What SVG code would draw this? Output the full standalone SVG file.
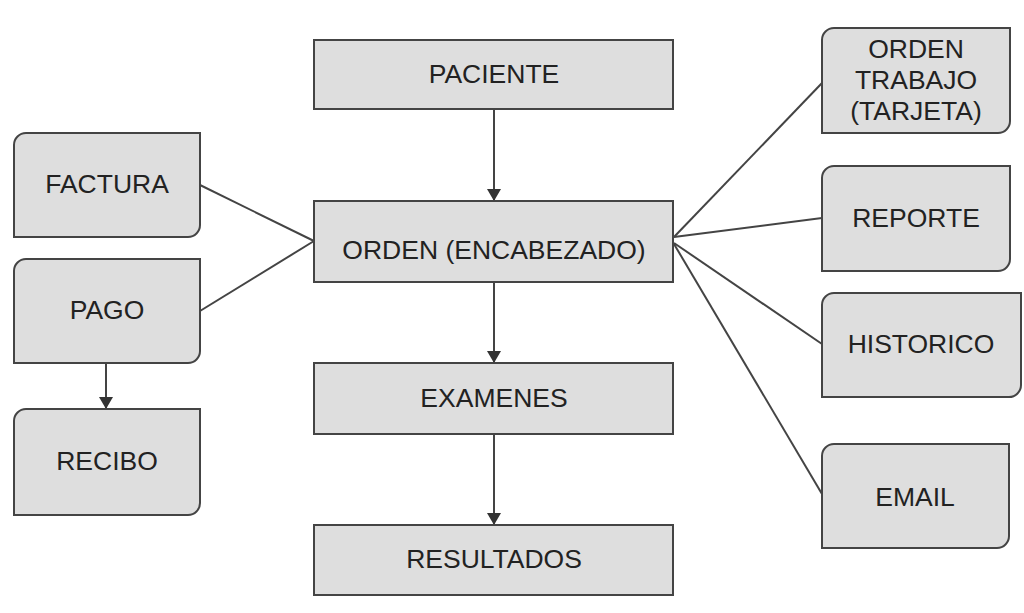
<svg xmlns="http://www.w3.org/2000/svg" width="1024" height="613" viewBox="0 0 1024 613">
<style>
.box{fill:#dedede;stroke:#444;stroke-width:2}
.lbl{font-family:"Liberation Sans",Arial,sans-serif;font-size:26.5px;fill:#222;text-anchor:middle}
.conn{stroke:#444;stroke-width:2;fill:none}
</style>
<defs>
<marker id="arr" viewBox="0 0 12 12" refX="12" refY="6" markerWidth="12" markerHeight="14" markerUnits="userSpaceOnUse" orient="auto" preserveAspectRatio="none">
<path d="M0,0 L12,6 L0,12 Z" fill="#333"/>
</marker>
</defs>
<rect width="1024" height="613" fill="#fff"/>
<g id="connectors">
<line class="conn" x1="494" y1="109" x2="494" y2="201" marker-end="url(#arr)"/>
<line class="conn" x1="494" y1="282" x2="494" y2="363" marker-end="url(#arr)"/>
<line class="conn" x1="494" y1="434" x2="494" y2="525" marker-end="url(#arr)"/>
<line class="conn" x1="106" y1="363" x2="106" y2="409" marker-end="url(#arr)"/>
<line class="conn" x1="200" y1="185" x2="314" y2="241"/>
<line class="conn" x1="200" y1="311" x2="314" y2="241"/>
<line class="conn" x1="674" y1="237" x2="822" y2="83"/>
<line class="conn" x1="674" y1="237" x2="822" y2="218"/>
<line class="conn" x1="674" y1="243" x2="822" y2="344"/>
<line class="conn" x1="674" y1="244" x2="822" y2="494"/>
</g>
<g id="paciente">
<rect class="box" x="314" y="40" width="359" height="69"/>
<text class="lbl" x="494" y="83">PACIENTE</text>
</g>
<g id="orden">
<rect class="box" x="314" y="201" width="359" height="81"/>
<text class="lbl" x="494" y="259">ORDEN (ENCABEZADO)</text>
</g>
<g id="examenes">
<rect class="box" x="314" y="363" width="359" height="71"/>
<text class="lbl" x="494" y="407">EXAMENES</text>
</g>
<g id="resultados">
<rect class="box" x="314" y="525" width="359" height="70"/>
<text class="lbl" x="494" y="568">RESULTADOS</text>
</g>
<g id="factura">
<path class="box" d="M14,145 A12,12 0 0 1 26,133 H200 V225 A12,12 0 0 1 188,237 H14 Z"/>
<text class="lbl" x="107" y="193">FACTURA</text>
</g>
<g id="pago">
<path class="box" d="M14,271 A12,12 0 0 1 26,259 H200 V351 A12,12 0 0 1 188,363 H14 Z"/>
<text class="lbl" x="107" y="319">PAGO</text>
</g>
<g id="recibo">
<path class="box" d="M14,421 A12,12 0 0 1 26,409 H200 V503 A12,12 0 0 1 188,515 H14 Z"/>
<text class="lbl" x="107" y="470">RECIBO</text>
</g>
<g id="orden-trabajo">
<path class="box" d="M822,40 A12,12 0 0 1 834,28 H1010 V121 A12,12 0 0 1 998,133 H822 Z"/>
<text class="lbl" x="916" y="58">ORDEN</text>
<text class="lbl" x="916" y="89">TRABAJO</text>
<text class="lbl" x="916" y="120">(TARJETA)</text>
</g>
<g id="reporte">
<path class="box" d="M822,178 A12,12 0 0 1 834,166 H1010 V259 A12,12 0 0 1 998,271 H822 Z"/>
<text class="lbl" x="916" y="227">REPORTE</text>
</g>
<g id="historico">
<path class="box" d="M822,305 A12,12 0 0 1 834,293 H1021 V385 A12,12 0 0 1 1009,397 H822 Z"/>
<text class="lbl" x="921" y="353">HISTORICO</text>
</g>
<g id="email">
<path class="box" d="M822,456 A12,12 0 0 1 834,444 H1009 V536 A12,12 0 0 1 997,548 H822 Z"/>
<text class="lbl" x="915" y="506">EMAIL</text>
</g>
</svg>
